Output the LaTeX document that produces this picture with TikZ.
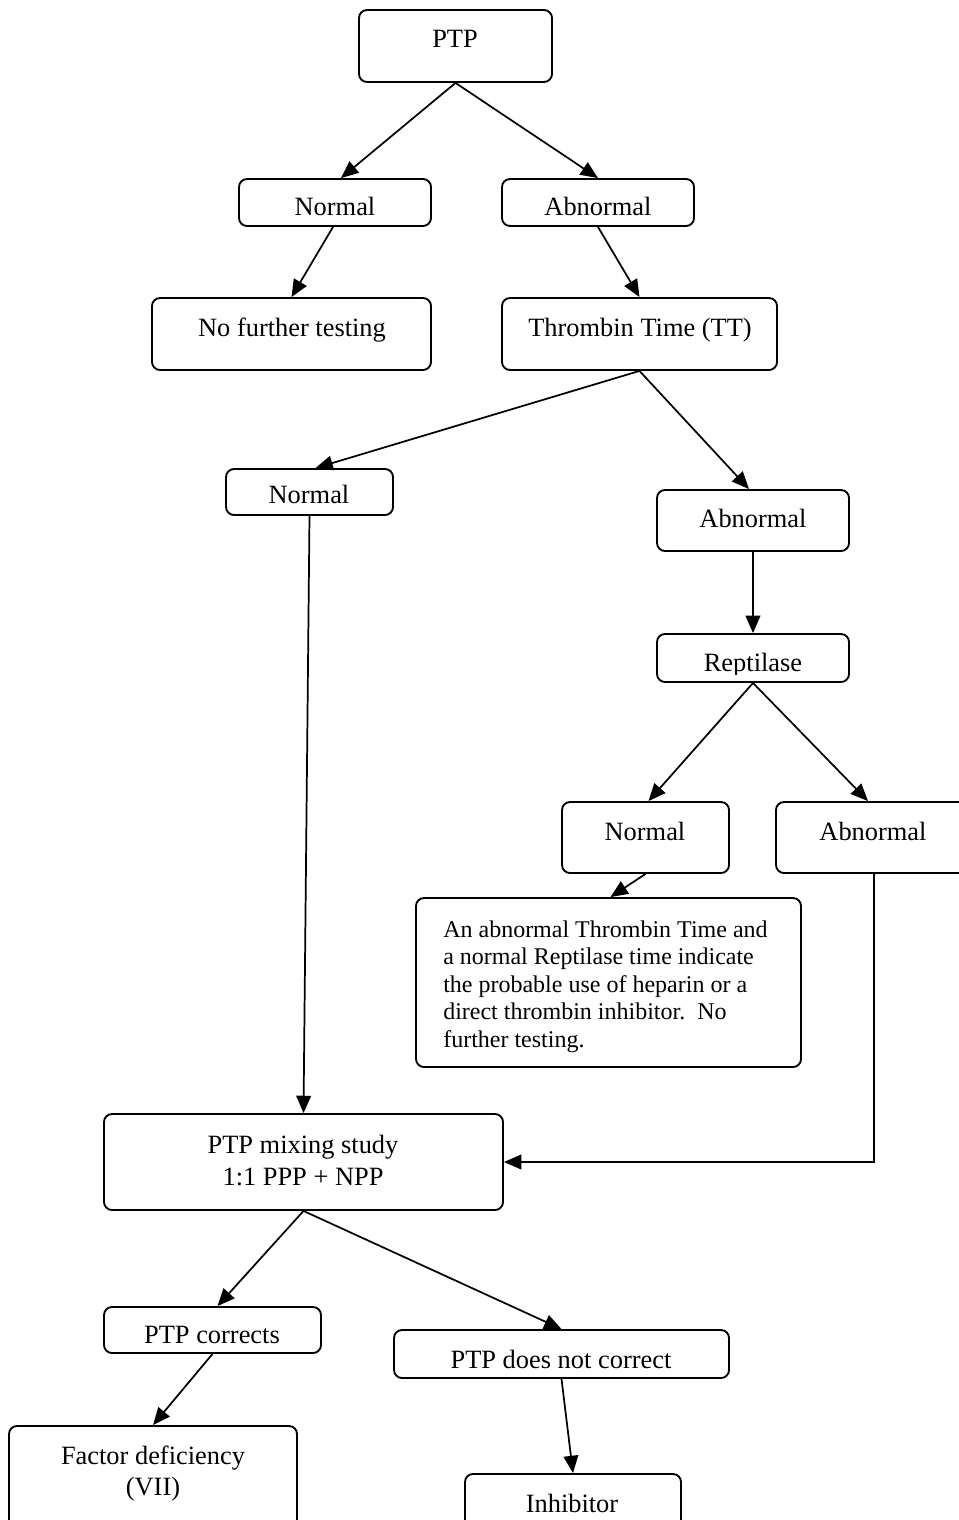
\documentclass[tikz,border=0pt]{standalone}
\usepackage{fontspec}
\setmainfont{Liberation Serif}
\usetikzlibrary{fit,calc,arrows.meta}
\begin{document}
\begin{tikzpicture}[x=0.75pt,y=-0.75pt,
  box/.style={draw,line width=1.4pt,rounded corners=6pt,inner sep=0pt},
  txt/.style={anchor=base,inner sep=0pt,font=\fontsize{19.8}{23}\selectfont,align=center},
  arr/.style={line width=1.3pt,-{Triangle[length=13pt,width=11pt]}}]
\useasboundingbox (0,0) rectangle (958,1520);
% boxes
\node[box,fit={(359,10)(552,82)}] (ptp) {};
\node[box,fit={(239,179)(431,226)}] (n1) {};
\node[box,fit={(502,179)(694,226)}] (a1) {};
\node[box,fit={(152,298)(431,370)}] (nf) {};
\node[box,fit={(502,298)(777,370)}] (tt) {};
\node[box,fit={(226,469)(393,515)}] (n2) {};
\node[box,fit={(657,490)(849,551)}] (a2) {};
\node[box,fit={(657,634)(849,682)}] (rep) {};
\node[box,fit={(562,802)(729,873)}] (n3) {};
\node[box,fit={(776,802)(968,873)}] (a3) {};
\node[box,fit={(416,898)(801,1067)}] (note) {};
\node[box,fit={(104,1114)(503,1210)}] (mix) {};
\node[box,fit={(104,1307)(321,1353)}] (pc) {};
\node[box,fit={(394,1330)(729,1378)}] (pn) {};
\node[box,fit={(9,1426)(297,1530)}] (fd) {};
\node[box,fit={(465,1474)(681,1530)}] (inh) {};
% texts
\node[txt] (tptp) at (455,48) {PTP};
\node[txt] (tn1) at (335,215) {Normal};
\node[txt] (ta1) at (598,215) {Abnormal};
\node[txt] (tnf) at (292,336) {No further testing};
\node[txt] (ttt) at (640,336) {Thrombin Time (TT)};
\node[txt] (tn2) at (309,503) {Normal};
\node[txt] (ta2) at (753,527) {Abnormal};
\begin{scope}
\clip (657,634) rectangle (849,674);
\node[txt] (trep) at (753,671) {Reptilase};
\end{scope}
\node[txt] (tn3) at (645,840) {Normal};
\node[txt] (ta3) at (873,840) {Abnormal};
\node[anchor=base west,inner sep=0pt,align=left,font=\fontsize{18}{20.6}\selectfont] (tnote) at (443,1047)
  {An abnormal Thrombin Time and\\a normal Reptilase time indicate\\the probable use of heparin or a\\direct thrombin inhibitor.\ \ No\\further testing.};
\node[txt,font=\fontsize{19.8}{24}\selectfont] (tmix) at (303,1185) {PTP mixing study\\1:1 PPP + NPP};
\node[txt] (tpc) at (212,1343) {PTP corrects};
\node[txt] (tpn) at (561,1368) {PTP does not correct};
\node[txt,font=\fontsize{19.8}{23}\selectfont] (tfd) at (153,1495) {Factor deficiency\\(VII)};
\node[txt] (tinh) at (572,1512) {Inhibitor};
% connectors
\draw[arr] (ptp.south) -- ($(n1.north)+(6,0)$);
\draw[arr] (ptp.south) -- (a1.north);
\draw[arr] ($(n1.south)+(-2,0)$) -- (nf.north);
\draw[arr] (a1.south) -- (tt.north);
\draw[arr] (tt.south) -- ($(n2.north)+(6,0)$);
\draw[arr] (tt.south) -- ($(a2.north)+(-4,0)$);
\draw[arr] (n2.south) -- (mix.north);
\draw[arr] (a2.south) -- (rep.north);
\draw[arr] (rep.south) -- ($(n3.north)+(3,0)$);
\draw[arr] (rep.south) -- ($(a3.north)+(-4,0)$);
\draw[arr] (n3.south) -- ($(note.north)+(2,0)$);
\draw[arr] ($(a3.south)+(2,0)$) |- (mix.east);
\draw[arr] (mix.south) -- ($(pc.north)+(5,0)$);
\draw[arr] (mix.south) -- (pn.north);
\draw[arr] (pc.south) -- (fd.north);
\draw[arr] (pn.south) -- (inh.north);
\end{tikzpicture}
\end{document}
